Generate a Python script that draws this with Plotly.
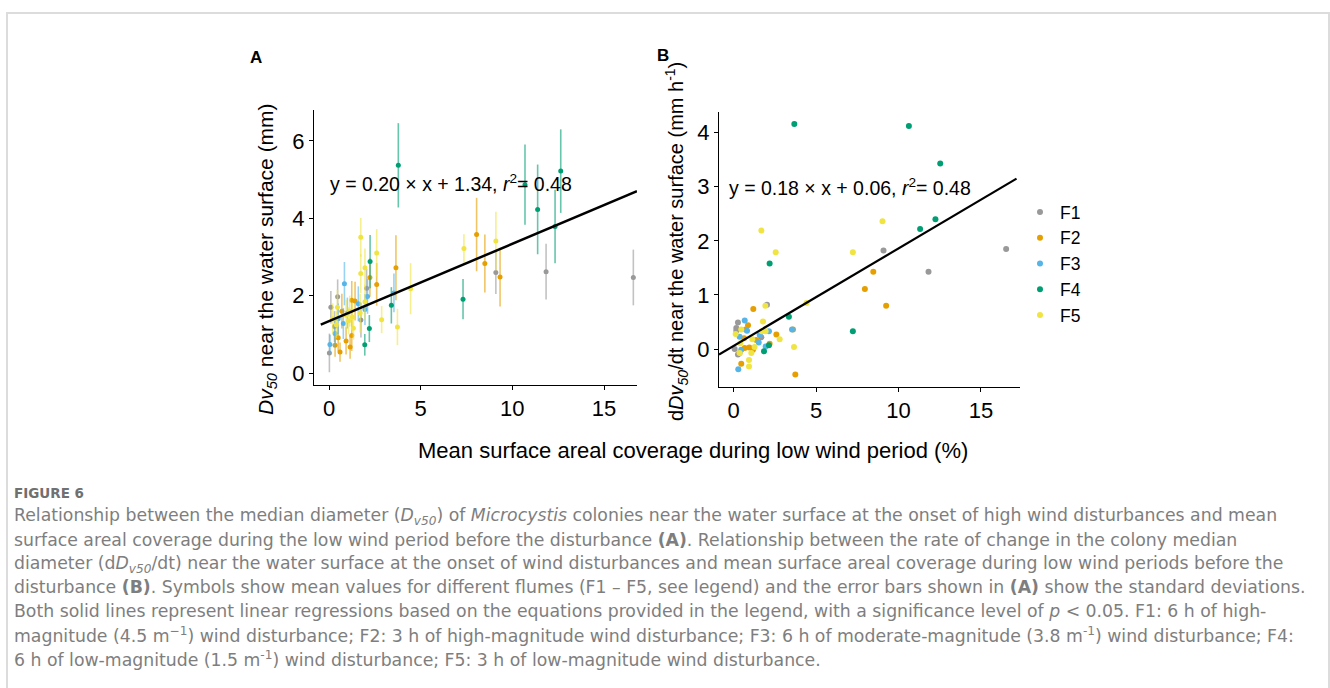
import plotly.graph_objects as go

W, H = 1330, 688

flumes = ["F1", "F2", "F3", "F4", "F5"]
colors = ["#999999", "#E69F00", "#56B4E9", "#009E73", "#F0E442"]
err_colors = ["rgba(153,153,153,0.6)", "rgba(230,159,0,0.6)", "rgba(86,180,233,0.6)",
              "rgba(0,158,115,0.6)", "rgba(240,228,66,0.6)"]

# ---- Panel A: Dv50 (mean, sd) vs coverage ----
f1_xa = [0.02, 0.1, 0.47, 0.3, 1.74, 2.05, 9.1, 11.84, 16.6]
f1_ya = [0.52, 1.7, 1.97, 1.2, 1.37, 2.19, 2.6, 2.62, 2.47]
f1_sa = [0.5, 0.42, 0.45, 0.4, 0.45, 0.5, 0.56, 0.72, 0.72]

f2_xa = [0.33, 0.5, 0.6, 0.7, 0.93, 1.15, 1.24, 1.24, 1.42, 2.23, 2.6, 3.65, 8.05, 8.5, 9.33]
f2_ya = [0.72, 0.91, 0.54, 1.6, 0.83, 0.67, 0.97, 1.88, 1.86, 2.47, 2.29, 2.72, 3.58, 2.83, 2.48]
f2_sa = [0.3, 0.35, 0.25, 0.45, 0.35, 0.3, 0.4, 0.5, 0.5, 0.5, 0.55, 0.84, 0.95, 0.75, 0.76]

f3_xa = [0.05, 0.33, 0.5, 0.78, 0.84, 1.0, 1.6, 1.96, 2.1, 3.54]
f3_ya = [0.74, 1.02, 1.4, 1.28, 2.31, 1.55, 1.79, 1.64, 1.98, 2.07]
f3_sa = [0.25, 0.35, 0.4, 0.4, 0.56, 0.4, 0.45, 0.4, 0.45, 0.5]

f4_xa = [1.95, 2.2, 2.24, 3.4, 3.78, 7.31, 10.69, 11.38, 12.33, 12.64]
f4_ya = [0.73, 1.15, 2.88, 1.75, 5.37, 1.91, 4.87, 4.23, 3.79, 5.22]
f4_sa = [0.28, 0.35, 0.69, 0.47, 1.09, 0.52, 1.04, 1.16, 0.95, 1.08]

f5_xa = [0.2, 0.4, 0.46, 0.93, 1.07, 1.13, 1.27, 1.33, 1.7, 1.73, 1.73, 1.96, 1.96, 2.6, 2.87, 3.73, 4.45, 7.36, 9.1]
f5_ya = [1.4, 1.25, 1.7, 1.5, 1.35, 1.6, 1.45, 1.16, 1.55, 3.51, 2.57, 2.72, 1.84, 3.1, 1.38, 1.19, 2.18, 3.22, 3.41]
f5_sa = [0.4, 0.35, 0.45, 0.4, 0.35, 0.4, 0.35, 0.3, 0.5, 0.5, 0.5, 0.5, 0.45, 0.62, 0.35, 0.47, 0.66, 0.37, 0.76]

# ---- Panel B: dDv50/dt vs coverage ----
f1_xb = [0.06, 0.16, 0.16, 0.26, 0.26, 1.68, 2.02, 9.09, 11.82, 16.53]
f1_yb = [0.0, 0.39, 0.34, 0.49, -0.1, 0.22, 0.82, 1.82, 1.43, 1.85]

f2_xb = [0.36, 0.46, 0.63, 0.67, 0.73, 0.87, 0.95, 1.17, 1.19, 1.37, 2.18, 2.59, 3.6, 3.74, 7.96, 8.47, 9.25]
f2_yb = [-0.07, -0.27, 0.2, 0.02, 0.36, 0.44, 0.03, -0.01, 0.74, 0.17, 0.1, 0.27, 0.36, -0.47, 1.11, 1.43, 0.8]

f3_xb = [0.28, 0.36, 0.46, 0.67, 0.81, 1.52, 1.58, 1.94, 2.14, 3.54]
f3_yb = [-0.37, 0.23, -0.01, 0.53, 0.34, 0.12, 0.26, 0.05, 0.33, 0.36]

f4_xb = [1.84, 2.14, 2.18, 3.35, 3.68, 7.23, 10.63, 11.31, 12.24, 12.53]
f4_yb = [-0.04, 0.07, 1.58, 0.6, 4.16, 0.33, 4.12, 2.22, 2.4, 3.43]

f5_xb = [0.12, 0.36, 0.4, 0.46, 0.93, 0.93, 1.07, 1.13, 1.27, 1.68, 1.7, 1.78, 1.92, 1.94, 2.55, 2.79, 3.66, 4.42, 7.23, 9.03]
f5_yb = [0.28, -0.07, 0.11, 0.36, -0.2, -0.32, -0.07, 0.18, 0.04, 2.19, 0.33, 0.51, 0.8, 0.33, 1.79, 0.18, 0.04, 0.85, 1.79, 2.36]

# regression fits
fitA_slope, fitA_icept, fitA_x = 0.20, 1.34, [-0.45, 16.8]
fitB_slope, fitB_icept, fitB_x = 0.18, 0.06, [-0.89, 17.16]

xa_list = [f1_xa, f2_xa, f3_xa, f4_xa, f5_xa]
ya_list = [f1_ya, f2_ya, f3_ya, f4_ya, f5_ya]
sa_list = [f1_sa, f2_sa, f3_sa, f4_sa, f5_sa]
xb_list = [f1_xb, f2_xb, f3_xb, f4_xb, f5_xb]
yb_list = [f1_yb, f2_yb, f3_yb, f4_yb, f5_yb]

FONT = "Liberation Sans, Arial, sans-serif"
CAP_FONT = "DejaVu Sans, Open Sans, sans-serif"
CAP_COLOR = "#7e7e7e"

fig = go.Figure()

for i, name in enumerate(flumes):
    fig.add_trace(go.Scatter(
        x=xa_list[i], y=ya_list[i], mode="markers", name=name, showlegend=False,
        marker=dict(color=colors[i], size=5),
        error_y=dict(type="data", array=sa_list[i], visible=True, color=err_colors[i],
                     thickness=1.6, width=0),
        xaxis="x", yaxis="y"))

fig.add_trace(go.Scatter(
    x=fitA_x, y=[fitA_slope * v + fitA_icept for v in fitA_x], mode="lines",
    line=dict(color="black", width=2.5), showlegend=False, xaxis="x", yaxis="y"))

for i, name in enumerate(flumes):
    fig.add_trace(go.Scatter(
        x=xb_list[i], y=yb_list[i], mode="markers", name=name, showlegend=True,
        marker=dict(color=colors[i], size=6),
        xaxis="x2", yaxis="y2"))

fig.add_trace(go.Scatter(
    x=fitB_x, y=[fitB_slope * v + fitB_icept for v in fitB_x], mode="lines",
    line=dict(color="black", width=2.2), showlegend=False, xaxis="x2", yaxis="y2"))


def px(x):
    return x / W


def py(y):
    return 1 - y / H


axis_common = dict(showline=True, linecolor="black", linewidth=1, ticks="outside",
                   ticklen=4, tickcolor="black", tickwidth=1, showgrid=False,
                   zeroline=False, tickfont=dict(family=FONT, size=22, color="black"))

fig.update_layout(
    width=W, height=H, margin=dict(l=0, r=0, t=0, b=0), autosize=False,
    paper_bgcolor="white", plot_bgcolor="white",
    xaxis=dict(domain=[px(314), px(637)], range=[-0.82, 16.8], tickvals=[0, 5, 10, 15],
               anchor="y", **axis_common),
    yaxis=dict(domain=[py(385), py(110)], range=[-0.31, 6.8], tickvals=[0, 2, 4, 6],
               anchor="x", **axis_common),
    xaxis2=dict(domain=[px(719), px(1020)], range=[-0.89, 17.37], tickvals=[0, 5, 10, 15],
                anchor="y2", **axis_common),
    yaxis2=dict(domain=[py(387), py(112)], range=[-0.70, 4.38], tickvals=[0, 1, 2, 3, 4],
                anchor="x2", **axis_common),
    legend=dict(x=px(1020), y=py(194), xanchor="left", yanchor="top",
                font=dict(family=FONT, size=17.5, color="black"),
                bgcolor="rgba(0,0,0,0)", itemsizing="trace", tracegroupgap=0),
    showlegend=True,
)

ann = []
# equations
ann.append(dict(x=-0.05, y=4.9, xref="x", yref="y", xanchor="left", yanchor="middle",
                text="y = 0.20 × x + 1.34, <i>r</i><sup>2</sup>= 0.48", showarrow=False,
                font=dict(family=FONT, size=19.5, color="black")))
ann.append(dict(x=-0.4, y=3.0, xref="x2", yref="y2", xanchor="left", yanchor="middle",
                text="y = 0.18 × x + 0.06, <i>r</i><sup>2</sup>= 0.48", showarrow=False,
                font=dict(family=FONT, size=19.5, color="black")))
# y titles
ann.append(dict(x=px(267), y=py(259), xref="paper", yref="paper", xanchor="center",
                yanchor="middle", textangle=-90, showarrow=False,
                text="<i>Dv<sub>50</sub></i> near the water surface (mm)",
                font=dict(family=FONT, size=21, color="black")))
ann.append(dict(x=px(677), y=py(242), xref="paper", yref="paper", xanchor="center",
                yanchor="middle", textangle=-90, showarrow=False,
                text="d<i>Dv<sub>50</sub></i>/dt near the water surface (mm h<sup>-1</sup>)",
                font=dict(family=FONT, size=20, color="black")))
# shared x title
ann.append(dict(x=px(693), y=py(450), xref="paper", yref="paper", xanchor="center",
                yanchor="middle", showarrow=False,
                text="Mean surface areal coverage during low wind period (%)",
                font=dict(family=FONT, size=22, color="black")))
# panel labels
ann.append(dict(x=px(256), y=py(57), xref="paper", yref="paper", xanchor="center",
                yanchor="middle", showarrow=False, text="<b>A</b>",
                font=dict(family=FONT, size=17, color="black")))
ann.append(dict(x=px(663), y=py(55), xref="paper", yref="paper", xanchor="center",
                yanchor="middle", showarrow=False, text="<b>B</b>",
                font=dict(family=FONT, size=17, color="black")))

# caption
ann.append(dict(x=px(12), y=py(493), xref="paper", yref="paper", xanchor="left",
                yanchor="middle", showarrow=False, text="<b>FIGURE 6</b>",
                font=dict(family=CAP_FONT, size=13.5, color="#707070")))
caption_lines = [
    "Relationship between the median diameter (<i>D</i><sub><i>v50</i></sub>) of <i>Microcystis</i> colonies near the water surface at the onset of high wind disturbances and mean",
    "surface areal coverage during the low wind period before the disturbance <b>(A)</b>. Relationship between the rate of change in the colony median",
    "diameter (d<i>D</i><sub><i>v50</i></sub>/dt) near the water surface at the onset of wind disturbances and mean surface areal coverage during low wind periods before the",
    "disturbance <b>(B)</b>. Symbols show mean values for different flumes (F1 – F5, see legend) and the error bars shown in <b>(A)</b> show the standard deviations.",
    "Both solid lines represent linear regressions based on the equations provided in the legend, with a significance level of <i>p</i> &lt; 0.05. F1: 6 h of high-",
    "magnitude (4.5 m<sup>−1</sup>) wind disturbance; F2: 3 h of high-magnitude wind disturbance; F3: 6 h of moderate-magnitude (3.8 m<sup>-1</sup>) wind disturbance; F4:",
    "6 h of low-magnitude (1.5 m<sup>-1</sup>) wind disturbance; F5: 3 h of low-magnitude wind disturbance.",
]
caption_y = [516, 540, 564, 587, 611, 635, 659]
for t, yy in zip(caption_lines, caption_y):
    ann.append(dict(x=px(12), y=py(yy), xref="paper", yref="paper", xanchor="left",
                    yanchor="middle", showarrow=False, text=t,
                    font=dict(family=CAP_FONT, size=17.3, color=CAP_COLOR)))

fig.update_layout(annotations=ann)

# light frame around the figure
fig.add_shape(type="rect", xref="paper", yref="paper", x0=px(7), x1=px(1329),
              y0=py(700), y1=py(13), line=dict(color="#dcdcdc", width=2),
              fillcolor="rgba(0,0,0,0)", layer="below")

fig.write_html("out.html")
